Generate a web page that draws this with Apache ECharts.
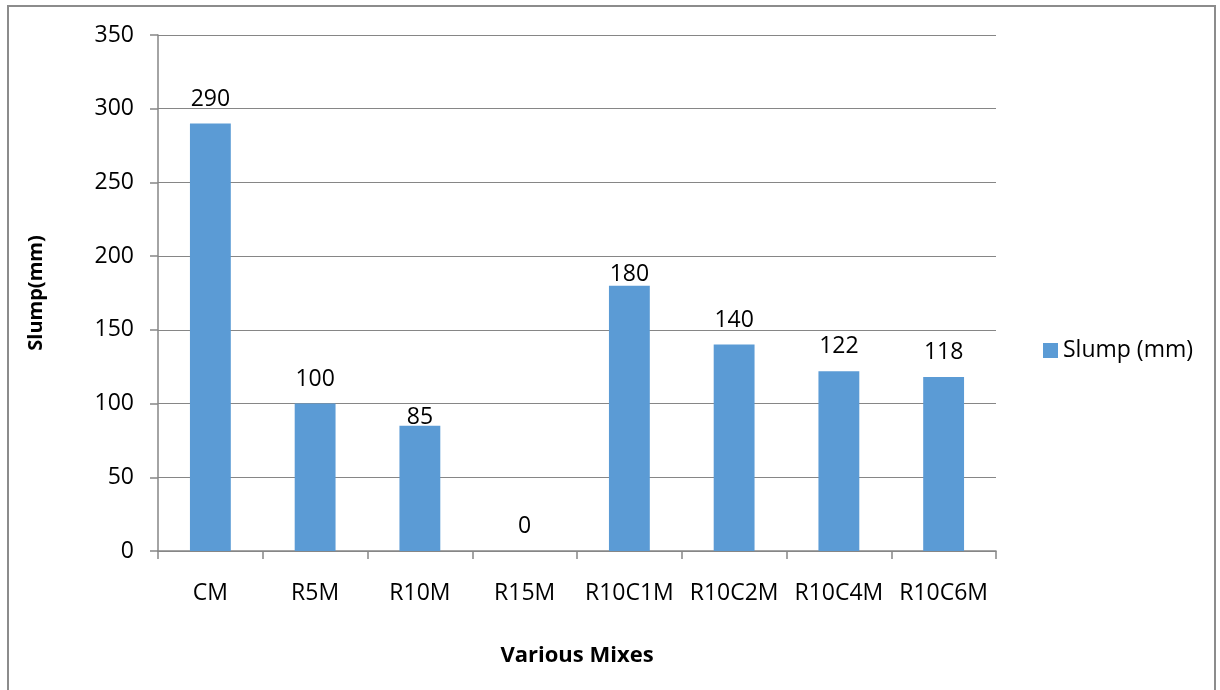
<!DOCTYPE html>
<html>
<head>
<meta charset="utf-8">
<script src="https://cdn.jsdelivr.net/npm/echarts@6/dist/echarts.min.js"></script>
<style>
  html, body { margin: 0; padding: 0; background: #fff; }
  #frame { position: absolute; left: 7px; top: 5px; width: 1209px; height: 700px; border: 2px solid #8c8c8c; box-sizing: border-box; }
  #chart { position: absolute; left: 0; top: 0; width: 1220px; height: 690px; }
</style>
</head>
<body>
<div id="frame"></div>
<div id="chart"></div>
<script>
// Slump of each mix, in millimetres
const mixes = ['CM', 'R5M', 'R10M', 'R15M', 'R10C1M', 'R10C2M', 'R10C4M', 'R10C6M'];
const slumpValues = [290, 100, 85, 0, 180, 140, 122, 118];
const seriesName = 'Slump (mm)';
const yTitle = 'Slump(mm)';
const xTitle = 'Various Mixes';

const font = 'Open Sans, Liberation Sans, sans-serif';

// Gap between a bar top and its value label; a few labels sit tighter
const defaultLabelGap = 13;
const labelGapByMix = { R10M: -3, R10C1M: 0 };

const barData = slumpValues.map((v, i) => {
  const gap = labelGapByMix[mixes[i]];
  return gap === undefined ? v : { value: v, label: { distance: gap } };
});

const chart = echarts.init(document.getElementById('chart'), null, { renderer: 'canvas' });

chart.setOption({
  animation: false,
  backgroundColor: 'transparent',
  textStyle: { fontFamily: font },
  grid: { left: 158, right: 224, top: 35, bottom: 139, containLabel: false },
  legend: {
    data: [seriesName],
    left: 1038, top: 334,
    itemWidth: 15, itemHeight: 15, itemGap: 6,
    icon: 'rect',
    textStyle: { fontSize: 23, color: '#000', fontFamily: font }
  },
  xAxis: {
    type: 'category',
    data: mixes,
    name: xTitle,
    nameLocation: 'middle',
    nameGap: 94,
    nameTextStyle: { fontSize: 22, fontWeight: 'bold', color: '#000', fontFamily: font },
    axisLine: { lineStyle: { color: '#868686', width: 1.5 } },
    axisTick: { show: true, length: 8, lineStyle: { color: '#868686', width: 1.5 } },
    axisLabel: { interval: 0, fontSize: 23, color: '#000', margin: 31, fontFamily: font }
  },
  yAxis: {
    type: 'value',
    min: 0, max: 350, interval: 50,
    name: yTitle,
    nameLocation: 'middle',
    nameGap: 112,
    nameRotate: 90,
    nameTextStyle: { fontSize: 20, fontWeight: 'bold', color: '#000', fontFamily: font },
    axisLine: { show: true, lineStyle: { color: '#868686', width: 1.5 } },
    axisTick: { show: true, length: 8, inside: false, lineStyle: { color: '#868686', width: 1.5 } },
    axisLabel: { fontSize: 23, color: '#000', margin: 24, fontFamily: font },
    splitLine: { show: true, lineStyle: { color: '#868686', width: 1 } }
  },
  series: [{
    name: seriesName,
    type: 'bar',
    data: barData,
    barWidth: '39%',
    itemStyle: { color: '#5B9BD5' },
    label: {
      show: true,
      position: 'top',
      distance: defaultLabelGap,
      fontSize: 23,
      color: '#000',
      fontFamily: font
    }
  }]
});
</script>
</body>
</html>
